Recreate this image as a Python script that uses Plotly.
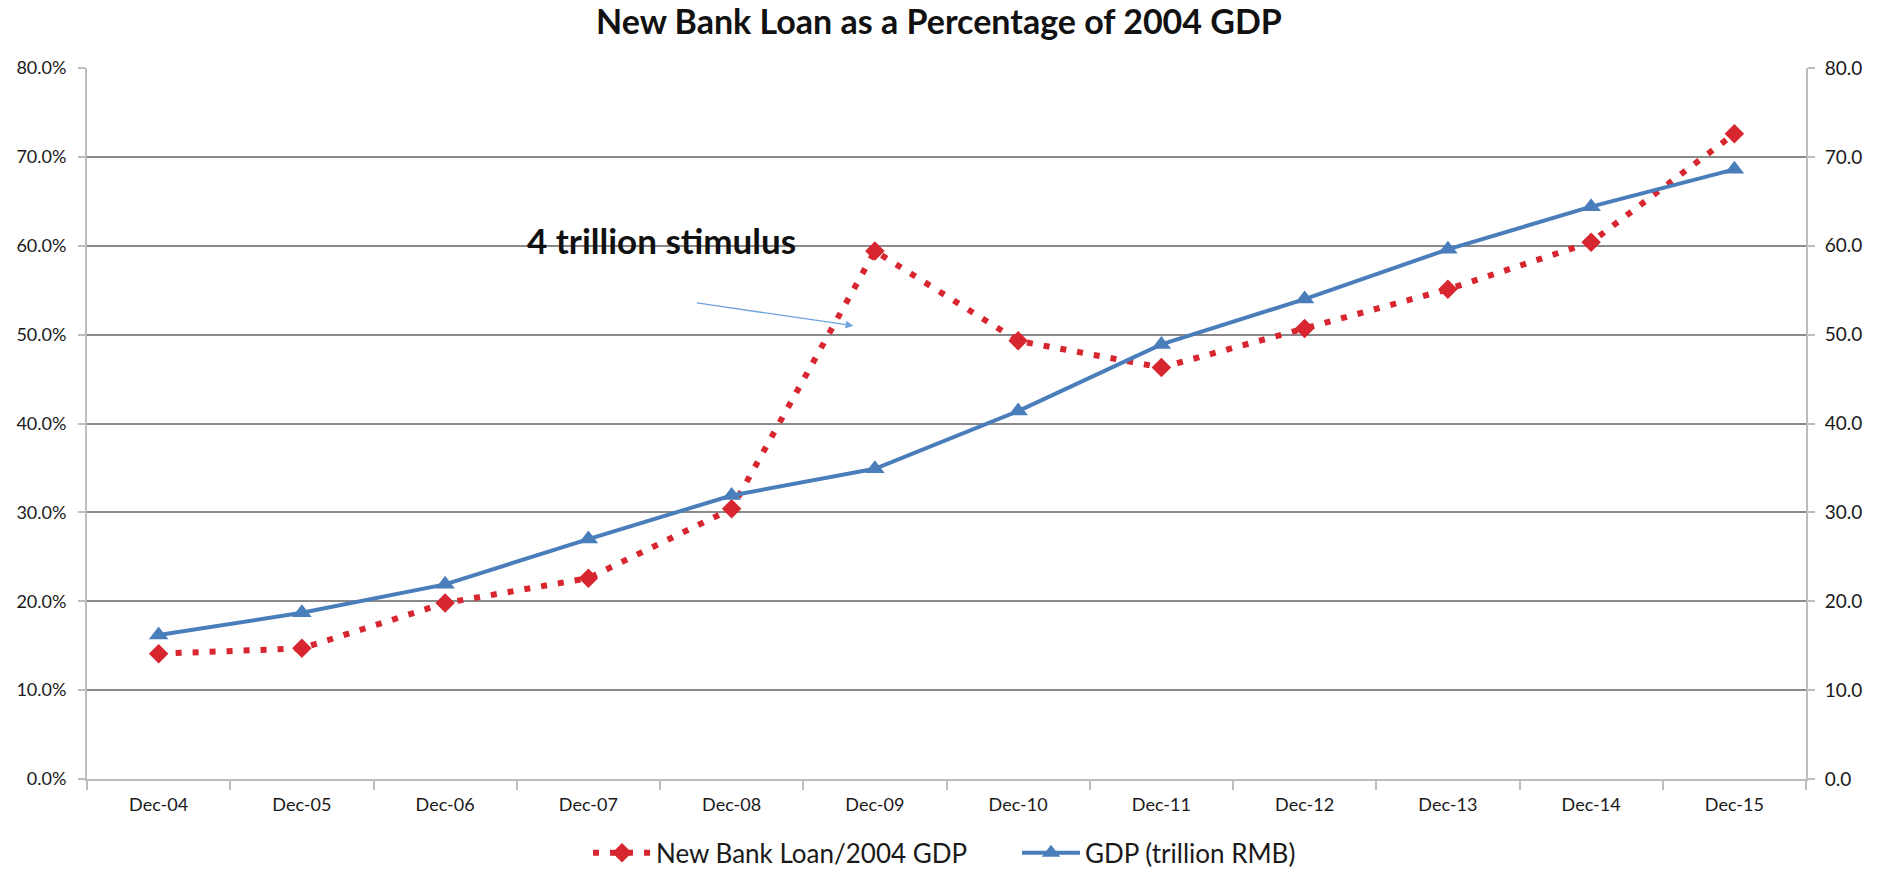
import plotly.graph_objects as go

# Categories (year-end)
months = ["Dec-04", "Dec-05", "Dec-06", "Dec-07", "Dec-08", "Dec-09",
          "Dec-10", "Dec-11", "Dec-12", "Dec-13", "Dec-14", "Dec-15"]

# New bank loans in each year as a share of 2004 GDP
loan_pct = [0.141, 0.147, 0.198, 0.226, 0.304, 0.594,
            0.493, 0.463, 0.507, 0.551, 0.604, 0.726]

# Nominal GDP, trillion RMB
gdp = [16.2, 18.7, 21.9, 27.0, 31.9, 34.9,
       41.4, 48.9, 54.0, 59.6, 64.4, 68.6]

left_ticks = [i / 10 for i in range(9)]
right_ticks = [i * 10 for i in range(9)]

RED = "#d7262f"
BLUE = "#4a7ebb"
GRID = "#8a8a8a"
AXIS = "#bdbdbd"
FONT = "Lato, 'Open Sans', sans-serif"

fig = go.Figure()

fig.add_trace(go.Scatter(
    x=months, y=loan_pct, name="New Bank Loan/2004 GDP",
    mode="lines+markers", yaxis="y",
    line=dict(color=RED, width=6, dash="6px,11px"),
    marker=dict(symbol="diamond", size=15, color=RED),
))

fig.add_trace(go.Scatter(
    x=months, y=gdp, name="GDP (trillion RMB)",
    mode="lines+markers", yaxis="y2",
    line=dict(color=BLUE, width=4),
    marker=dict(symbol="triangle-up", size=17, color=BLUE),
))

fig.update_layout(
    width=1878, height=870,
    margin=dict(l=87, r=72, t=68, b=91, autoexpand=False),
    paper_bgcolor="white", plot_bgcolor="white",
    font=dict(family=FONT, color="#1a1a1a", size=18),
    title=dict(
        text="<b>New Bank Loan as a Percentage of 2004 GDP</b>",
        x=0.5, xanchor="center", y=0.975, yanchor="middle",
        font=dict(size=34, color="#111111", family=FONT),
    ),
    xaxis=dict(
        type="category", tickson="boundaries", ticks="outside",
        ticklen=9, tickcolor=AXIS, tickwidth=2,
        showline=True, linecolor=AXIS, linewidth=2,
        showgrid=False, tickfont=dict(size=18),
        ticklabelstandoff=8,
        range=[-0.5, 11.5],
    ),
    yaxis=dict(
        range=[0, 0.8], tickvals=left_ticks, tickformat=".1%",
        showgrid=True, gridcolor=GRID, gridwidth=2,
        showline=True, linecolor=AXIS, linewidth=2,
        ticks="outside", ticklen=7, tickcolor=AXIS, tickwidth=2,
        zeroline=False, tickfont=dict(size=18),
        ticklabelstandoff=8,
    ),
    yaxis2=dict(
        range=[0, 80], tickvals=right_ticks, tickformat=".1f",
        overlaying="y", side="right", showgrid=False,
        showline=True, linecolor=AXIS, linewidth=2,
        ticks="outside", ticklen=7, tickcolor=AXIS, tickwidth=2,
        zeroline=False, tickfont=dict(size=19),
        ticklabelstandoff=6,
    ),
    legend=dict(
        orientation="h", x=0.541, xanchor="center",
        y=-0.104, yanchor="middle",
        font=dict(size=26, color="#1a1a1a"),
        itemwidth=58, entrywidth=356, entrywidthmode="pixels",
        bgcolor="rgba(0,0,0,0)",
    ),
    showlegend=True,
)

# Callout for the 2008-09 stimulus package
fig.add_annotation(
    x=3.51, y=0.606, xref="x", yref="y",
    text="<b>4 trillion stimulus</b>", showarrow=False,
    font=dict(size=35, color="#111111", family=FONT),
)
fig.add_annotation(
    x=4.85, y=0.51, xref="x", yref="y",
    ax=-158, ay=-23, axref="pixel", ayref="pixel",
    text="", showarrow=True, arrowhead=2, arrowsize=1.2,
    arrowwidth=1.3, arrowcolor="#6fa3dc",
)

fig.write_html("out.html")
